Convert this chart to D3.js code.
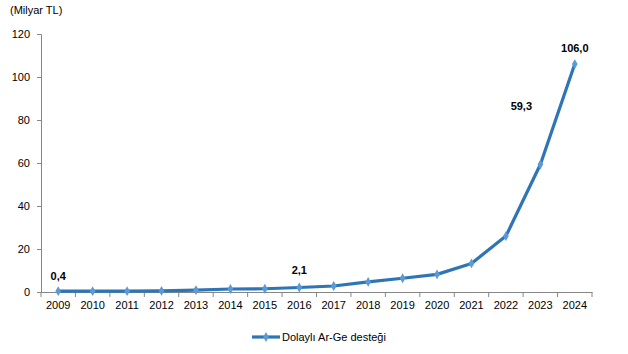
<!DOCTYPE html>
<html>
<head>
<meta charset="utf-8">
<script src="https://cdn.jsdelivr.net/npm/d3@7"></script>
<style>
  body { margin: 0; background: #fff; }
  svg text { font-family: "Liberation Sans", Arial, sans-serif; fill: #000; }
</style>
</head>
<body>
<svg id="chart" width="628" height="354"></svg>
<script>
// Chart data
const years = ["2009","2010","2011","2012","2013","2014","2015","2016","2017","2018","2019","2020","2021","2022","2023","2024"];
const values = [0.4, 0.4, 0.4, 0.5, 0.9, 1.4, 1.5, 2.1, 2.8, 4.7, 6.4, 8.2, 13.3, 26.0, 59.3, 106.0];
const labelled = { "2009": "0,4", "2016": "2,1", "2023": "59,3", "2024": "106,0" };
const yTicks = [0, 20, 40, 60, 80, 100, 120];
const seriesName = "Dolaylı Ar-Ge desteği";

const svg = d3.select("#chart");
const plotLeft = 41, plotRight = 592, plotTop = 34, plotBottom = 292;

const x = d3.scaleBand().domain(years).range([plotLeft, plotRight]);
const y = d3.scaleLinear().domain([0, 120]).range([plotBottom, plotTop]);

// unit label
svg.append("text")
  .attr("x", 10).attr("y", 14)
  .style("font-size", "11px")
  .text("(Milyar TL)");

// y axis
const yAxis = svg.append("g")
  .attr("transform", "translate(" + plotLeft + ",0)")
  .call(d3.axisLeft(y).tickValues(yTicks).tickSize(4).tickPadding(7));
yAxis.select(".domain").attr("stroke", "#868686");
yAxis.selectAll(".tick line").attr("stroke", "#868686");
yAxis.selectAll("text").style("font-size", "11px").attr("fill", "#000");

// x axis with ticks at category boundaries
const xAxis = svg.append("g")
  .attr("transform", "translate(0," + plotBottom + ")")
  .call(d3.axisBottom(x).tickSize(0).tickPadding(9));
xAxis.select(".domain").attr("stroke", "#868686");
xAxis.selectAll("text").style("font-size", "11px").attr("fill", "#000");
xAxis.selectAll(".bound")
  .data(years.concat(["end"]))
  .enter()
  .append("line")
  .attr("x1", function(d, i) { return plotLeft + i * x.step(); })
  .attr("x2", function(d, i) { return plotLeft + i * x.step(); })
  .attr("y1", 0).attr("y2", 5)
  .attr("stroke", "#868686");

// line
const cx = function(d) { return x(d) + x.bandwidth() / 2; };
const line = d3.line()
  .x(function(d, i) { return cx(years[i]); })
  .y(function(d) { return y(d); });

svg.append("path")
  .datum(values)
  .attr("d", line)
  .attr("fill", "none")
  .attr("stroke", "#2E75B6")
  .attr("stroke-width", 3.2)
  .attr("stroke-linejoin", "round");

// diamond markers
const diamond = d3.symbol().type(d3.symbolDiamond).size(28);
svg.selectAll(".pt")
  .data(values)
  .enter()
  .append("path")
  .attr("class", "pt")
  .attr("d", diamond)
  .attr("transform", function(d, i) { return "translate(" + cx(years[i]) + "," + y(d) + ")"; })
  .attr("fill", "#5B9BD5");

// data labels
const labelOffset = { "2009": [0, -11], "2016": [0, -13], "2023": [-19, -55], "2024": [0, -12] };
svg.selectAll(".lbl")
  .data(years.filter(function(d) { return labelled[d]; }))
  .enter()
  .append("text")
  .attr("class", "lbl")
  .attr("x", function(d) { return cx(d) + labelOffset[d][0]; })
  .attr("y", function(d) { return y(values[years.indexOf(d)]) + labelOffset[d][1]; })
  .attr("text-anchor", "middle")
  .style("font-size", "11px")
  .style("font-weight", "bold")
  .text(function(d) { return labelled[d]; });

// legend
const legend = svg.append("g").attr("transform", "translate(252,337)");
legend.append("line")
  .attr("x1", 0).attr("x2", 28).attr("y1", 0).attr("y2", 0)
  .attr("stroke", "#2E75B6").attr("stroke-width", 3.2);
legend.append("path")
  .attr("d", diamond)
  .attr("transform", "translate(14,0)")
  .attr("fill", "#5B9BD5");
legend.append("text")
  .attr("x", 30).attr("y", 4)
  .style("font-size", "11px")
  .text(seriesName);
</script>
</body>
</html>
